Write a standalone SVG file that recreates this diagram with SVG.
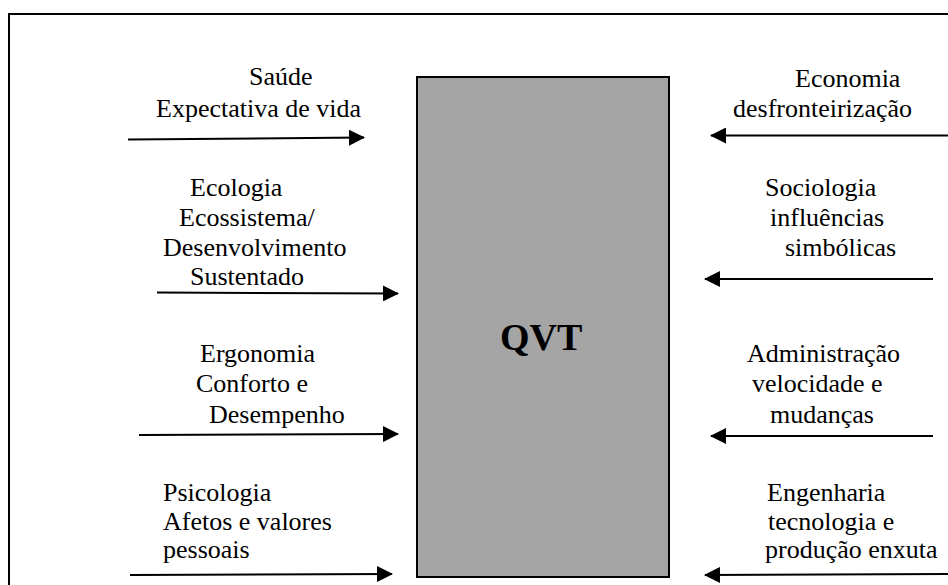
<svg xmlns="http://www.w3.org/2000/svg" width="948" height="585" viewBox="0 0 948 585">
<defs>
<marker id="ah" markerWidth="8" markerHeight="8" refX="7.5" refY="4" orient="auto" markerUnits="strokeWidth"><path d="M0,0 L8,4 L0,8 Z" fill="#000"/></marker>
<style>
.t{font-family:"Liberation Serif","Times New Roman",serif;font-size:26px;fill:#000}
.q{font-family:"Liberation Serif","Times New Roman",serif;font-size:38px;font-weight:bold;fill:#000}
.c{stroke:#000;stroke-width:2;fill:none;marker-end:url(#ah)}
</style>
</defs>
<rect width="948" height="585" fill="#fff"/>
<path d="M9,585 L9,14 L948,14" fill="none" stroke="#000" stroke-width="2"/>
<g id="qvt">
<rect x="417" y="77" width="252" height="500" fill="#a5a5a5" stroke="#000" stroke-width="2"/>
<text class="q" x="500" y="350">QVT</text>
</g>
<g id="saude"><text class="t" x="249" y="85">Saúde</text><text class="t" x="156" y="117">Expectativa de vida</text></g>
<g id="ecologia"><text class="t" x="190" y="196">Ecologia</text><text class="t" x="179" y="226">Ecossistema/</text><text class="t" x="163" y="256">Desenvolvimento</text><text class="t" x="190" y="285">Sustentado</text></g>
<g id="ergonomia"><text class="t" x="200" y="362">Ergonomia</text><text class="t" x="196" y="392">Conforto e</text><text class="t" x="209" y="423">Desempenho</text></g>
<g id="psicologia"><text class="t" x="163" y="501">Psicologia</text><text class="t" x="163" y="530">Afetos e valores</text><text class="t" x="163" y="558">pessoais</text></g>
<g id="economia"><text class="t" x="795" y="87">Economia</text><text class="t" x="733" y="117">desfronteirização</text></g>
<g id="sociologia"><text class="t" x="765" y="196">Sociologia</text><text class="t" x="770" y="226">influências</text><text class="t" x="785" y="256">simbólicas</text></g>
<g id="administracao"><text class="t" x="747" y="362">Administração</text><text class="t" x="752" y="392">velocidade e</text><text class="t" x="770" y="423">mudanças</text></g>
<g id="engenharia"><text class="t" x="767" y="501">Engenharia</text><text class="t" x="768" y="530">tecnologia e</text><text class="t" x="765" y="558">produção enxuta</text></g>
<g id="connectors">
<path class="c" d="M128,139.5 L364,137.5"/>
<path class="c" d="M157,292.5 L398,293.5"/>
<path class="c" d="M139,435 L398,434"/>
<path class="c" d="M130,575 L392,574"/>
<path class="c" d="M948,135.5 L711,135.5"/>
<path class="c" d="M933,279 L705,279"/>
<path class="c" d="M933,436 L711,436"/>
<path class="c" d="M948,574 L705,575"/>
</g>
</svg>
